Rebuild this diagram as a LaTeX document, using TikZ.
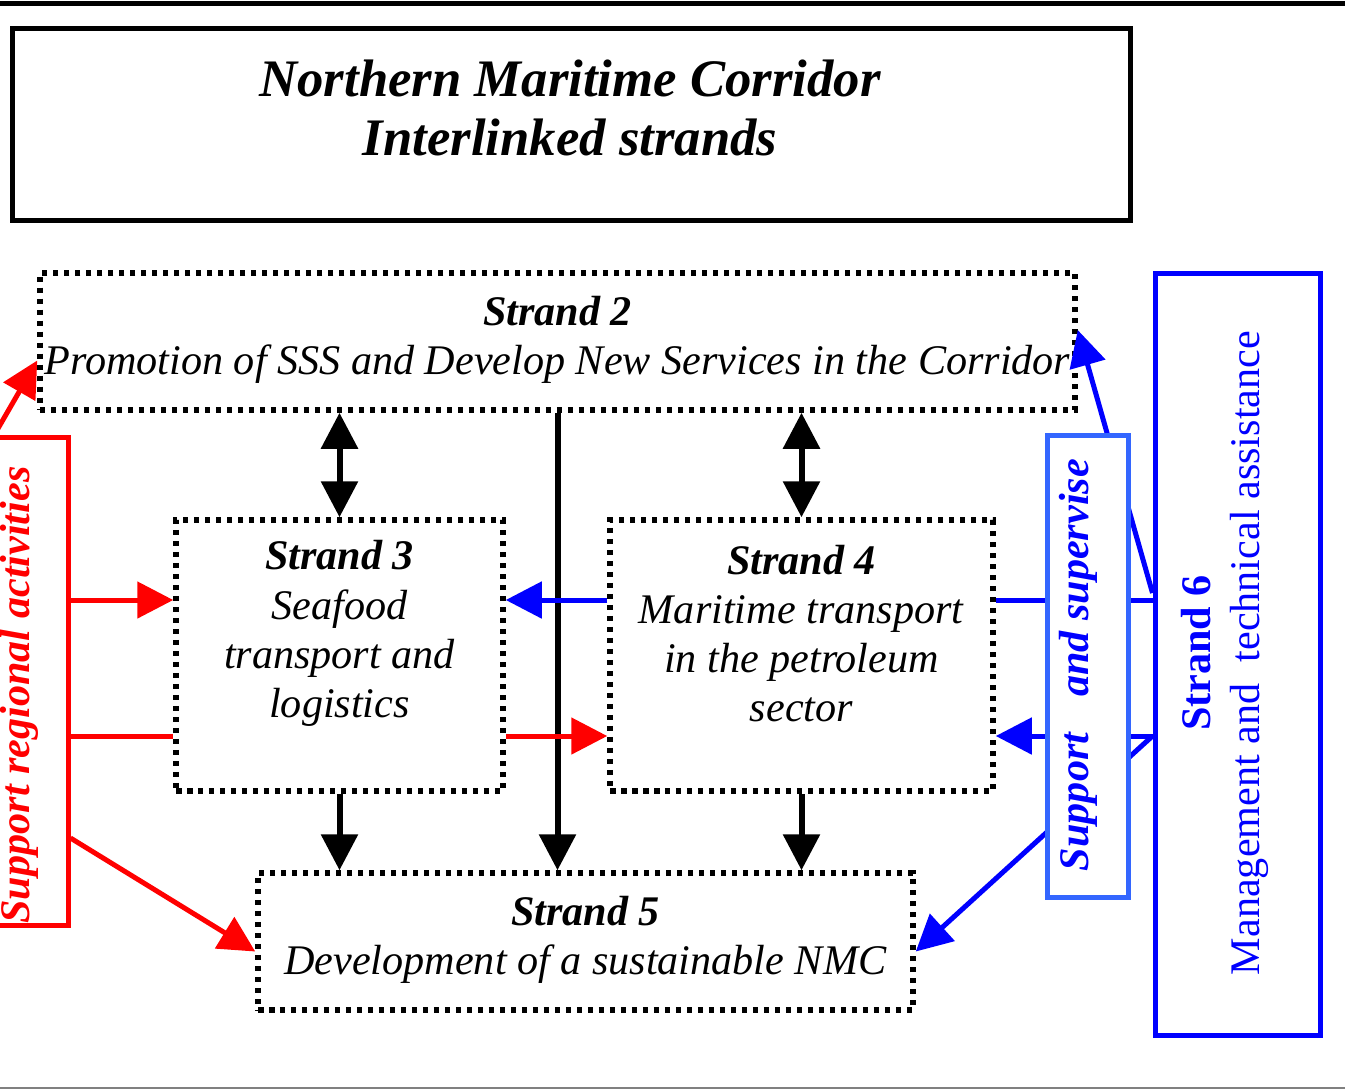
\documentclass[tikz,border=0pt]{standalone}
\usepackage{fontspec}
\setmainfont{Liberation Serif}
\usetikzlibrary{arrows.meta, positioning, calc}
\definecolor{supblue}{RGB}{51,102,255}

\begin{document}
\begin{tikzpicture}[
    font=\fontsize{12}{14}\selectfont,
    dotbox/.style={draw, line width=0.055cm, dash pattern=on 0.055cm off 0.055cm, inner sep=0pt},
    solidbox/.style={draw, line width=0.05cm, inner sep=0pt},
    tip/.style={-{Triangle[length=0.36cm,width=0.36cm]}},
    dbl/.style={{Triangle[length=0.36cm,width=0.36cm]}-{Triangle[length=0.36cm,width=0.36cm]}},
    link/.style={line width=0.05cm},
    bi/.style={font=\fontsize{12}{14}\selectfont\bfseries\itshape}
  ]
  \useasboundingbox (0,0) rectangle (13.45,-10.9);
  \draw[line width=0.05cm] (0,-0.03) -- (13.45,-0.03);
  \draw[gray, line width=0.015cm] (0,-10.88) -- (13.45,-10.88);

  % title
  \node[solidbox, minimum width=11.18cm, minimum height=1.92cm] (title) at (5.71,-1.24) {};
  \node[align=center, font=\fontsize{15}{17}\selectfont\bfseries\itshape] (ttl) at (5.70,-1.08)
    {Northern Maritime Corridor\\Interlinked strands};

  % strands
  \node[dotbox, minimum width=10.35cm, minimum height=1.37cm] (s2) at (5.575,-3.415) {};
  \node[dotbox, minimum width=3.27cm, minimum height=2.71cm] (s3) at (3.395,-6.555) {};
  \node[dotbox, minimum width=3.83cm, minimum height=2.71cm] (s4) at (8.015,-6.555) {};
  \node[dotbox, minimum width=6.55cm, minimum height=1.37cm] (s5) at (5.855,-9.415) {};
  \node[align=center] (s2t) at ([yshift=0.02cm]s2) {\textbf{\textit{Strand 2}}\\\textit{Promotion of SSS and Develop New Services in the Corridor}};
  \node[align=center] (s3t) at ([yshift=0.22cm]s3) {\textbf{\textit{Strand 3}}\\\textit{Seafood}\\\textit{transport and}\\\textit{logistics}};
  \node[align=center] (s4t) at ([yshift=0.22cm]s4) {\textbf{\textit{Strand 4}}\\\textit{Maritime transport}\\\textit{in the petroleum}\\\textit{sector}};
  \node[align=center] (s5t) at ([yshift=0.02cm]s5) {\textbf{\textit{Strand 5}}\\\textit{Development of a sustainable NMC}};

  % side boxes
  \node[solidbox, red, minimum width=0.71cm, minimum height=4.88cm] (rbox) at (0.325,-6.81) {};
  \node[bi, red, rotate=90] (rlab) at (0.19,-6.95) {Support regional activities};
  \node[solidbox, blue, minimum width=1.65cm, minimum height=7.62cm] (s6) at (12.375,-6.54) {};
  \node[rotate=90, align=center, blue] (s6t) at (12.25,-6.53) {\textbf{Strand 6}\\Management and \ technical assistance};

  % black links
  \draw[line width=0.06cm, dbl] (s2.south -| s3.north) -- (s3.north);
  \draw[line width=0.06cm, dbl] (s2.south -| s4.north) -- (s4.north);
  \draw[line width=0.06cm, tip] (s2.south) -- (s2.south |- s5.north);
  \draw[line width=0.06cm, tip] (s3.south) -- (s3.south |- s5.north);
  \draw[line width=0.06cm, tip] (s4.south) -- (s4.south |- s5.north);

  % red links
  \coordinate (r1) at ([yshift=0.555cm]s3.west);
  \coordinate (r2) at ([yshift=-0.805cm]s3.west);
  \coordinate (r3) at ([yshift=-0.805cm]s3.east);
  \draw[red, link, tip] (rbox.north west) -- ([yshift=-0.19cm]s2.west);
  \draw[red, link, tip] (rbox.east |- r1) -- (r1);
  \draw[red, link] (rbox.east |- r2) -- (r2);
  \draw[red, link, tip] (r3) -- (r3 -| s4.west);
  \draw[red, link, tip] ([yshift=-1.57cm]rbox.east) -- ([yshift=-0.1cm]s5.west);

  % blue links
  \coordinate (b1) at ([yshift=0.555cm]s4.west);
  \coordinate (b2) at ([yshift=-0.805cm]s4.east);
  \draw[blue, link, tip] (b1) -- (b1 -| s3.east);
  \draw[blue, link] (b1 -| s4.east) -- (b1 -| s6.west);
  \draw[blue, link, tip] (b2 -| s6.west) -- (b2);
  \draw[blue, link, tip] ([yshift=0.61cm]s6.west) -- ([yshift=0.115cm]s2.east);
  \draw[blue, link, tip] ([yshift=-0.82cm]s6.west) -- ([yshift=-0.1cm]s5.east);

  % support box over the blue links
  \node[solidbox, supblue, fill=white, minimum width=0.81cm, minimum height=4.62cm] (sup) at (10.875,-6.66) {};
  \node[bi, blue, rotate=90] (suplab) at (10.78,-6.65) {Support\hspace{0.6em} and supervise};
\end{tikzpicture}
\end{document}
